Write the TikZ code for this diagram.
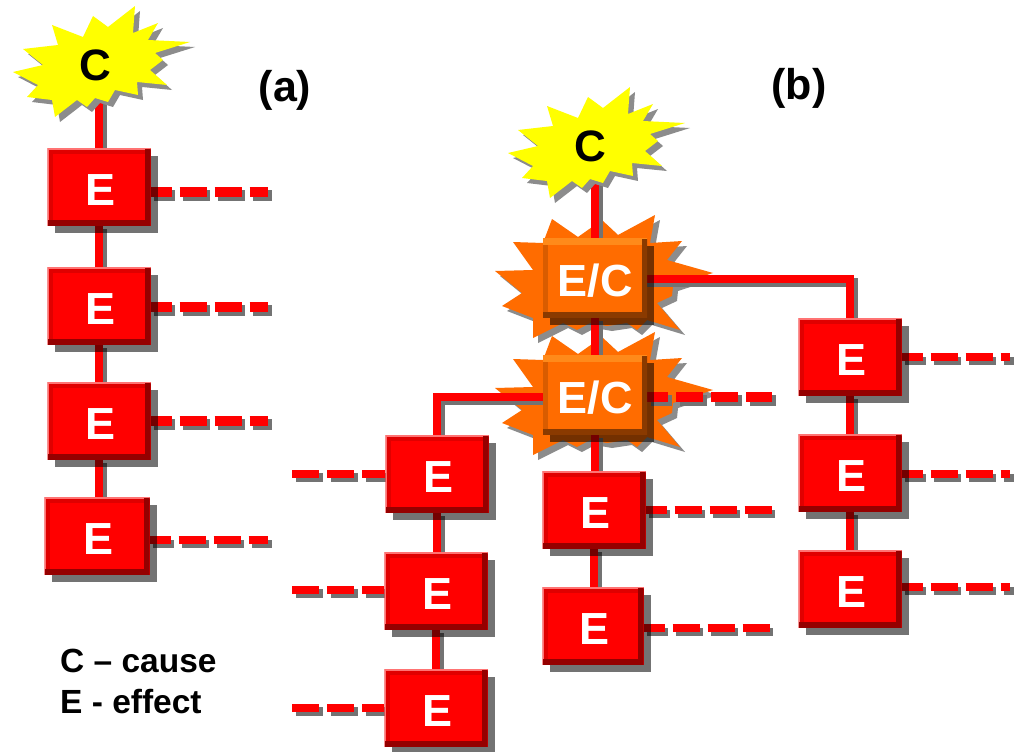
\documentclass[tikz,border=0pt]{standalone}
\usepackage{fontspec}
\setmainfont{Liberation Sans}
\usetikzlibrary{shadows,calc}
\pgfdeclarelayer{backlayer}
\pgfdeclarelayer{burstlayer}
\pgfdeclarelayer{linelayer}
\pgfsetlayers{backlayer,burstlayer,linelayer,main}
\definecolor{bred}{HTML}{FF0000}
\definecolor{byel}{HTML}{FFFF00}
\definecolor{bredlt}{HTML}{E00000}
\definecolor{breddk}{HTML}{950000}
\definecolor{borg}{HTML}{FF6C00}
\definecolor{borglt}{HTML}{FF8A1A}
\definecolor{borgmd}{HTML}{D95C00}
\definecolor{borgdk}{HTML}{8A3A00}
\newcommand{\sz}[1]{\fontsize{#1}{#1}\selectfont}
\newcommand{\yellowpts}{(-82,7)--(-52,0)--(-72,-16)--(-37,-20)--(-43,-40)--(-12,-28)--(-2,-49)--(13,-38)--(40,-59)--(38,-32)--(63,-42)--(53,-25)--(95,-23)--(60,-12)--(68,-5)--(55,5)--(72,20)--(42,17)--(43,30)--(20,25)--(13,37)--(0,33)--(-8,42)--(-18,35)--(-40,52)--(-43,35)--(-68,32)--(-57,20)--cycle}
\newcommand{\orangepts}{(-100,-7)--(-62,-8)--(-82,-36)--(-52,-35)--(-43,-59)--(-17,-41)--(7,-58)--(23,-43)--(60,-63)--(55,-35)--(87,-37)--(72,-18)--(118,-5)--(78,8)--(77,18)--(62,25)--(85,52)--(52,42)--(42,52)--(32,45)--(12,48)--(-5,45)--(-18,52)--(-32,45)--(-62,60)--(-62,40)--(-93,28)--(-73,15)--cycle}
\tikzset{
  boxbase/.style={rectangle,inner sep=0pt,minimum width=103pt,minimum height=77pt,text=white,font=\bfseries\sz{45},
    drop shadow={shadow xshift=7pt,shadow yshift=-7pt,fill=black,opacity=.55}},
  effect/.style={boxbase,fill=bred,
    path picture={
      \draw[line width=10pt,bredlt] (path picture bounding box.south west)--(path picture bounding box.north west)--(path picture bounding box.north east);
      \draw[line width=3pt,red!55!white] (path picture bounding box.south west)--(path picture bounding box.north west)--(path picture bounding box.north east);
      \draw[line width=11pt,breddk] (path picture bounding box.north east)--(path picture bounding box.south east)--(path picture bounding box.south west);
    }},
  effcause/.style={boxbase,fill=borg,minimum width=104pt,minimum height=79pt,
    path picture={
      \draw[line width=10pt,borgmd] (path picture bounding box.south west)--(path picture bounding box.north west);
      \draw[line width=12pt,borglt] (path picture bounding box.north west)--(path picture bounding box.north east);
      \draw[line width=11pt,borgdk] (path picture bounding box.north east)--(path picture bounding box.south east)--(path picture bounding box.south west);
    }},
  cause/.style={rectangle,inner sep=0pt,text=black,font=\bfseries\sz{44}},
  mk/.style 2 args={line width=#1,#2,draw=bred,line join=miter,
    preaction={draw=black!55,line width=#1,#2,line join=miter,transform canvas={shift={(3.5pt,-3.5pt)}}}},
  link/.style={mk={8.5pt}{solid}},
  dashlink/.style={mk={10.5pt}{dash pattern=on 27pt off 8pt,dash phase=6pt}},
  dashthin/.style={mk={8pt}{dash pattern=on 27pt off 8pt,dash phase=6pt}},
  dashin/.style={mk={8.5pt}{dash pattern=on 27pt off 8pt}},
  title/.style={inner sep=0pt,text=black,font=\bfseries\sz{43}},
  legend/.style={inner sep=0pt,anchor=west,text=black,font=\bfseries\sz{33.5}},
}
\newcommand{\yellowburst}[2]{%
  \fill[black!45,shift={(#1+5,#2+5)}] \yellowpts;
  \fill[byel,shift={(#1,#2)}] \yellowpts;}
\newcommand{\orangeburst}[2]{%
  \begin{pgfonlayer}{burstlayer}
  \fill[black!45,shift={(#1+5,#2+5)}] \orangepts;
  \fill[borg,shift={(#1,#2)}] \orangepts;
  \end{pgfonlayer}}
\newcommand{\lowE}[1]{\rule{0pt}{37pt}#1}
\newcommand{\eff}{\rule{0pt}{37pt}\hspace{3pt}E}
\begin{document}
\begin{tikzpicture}[x=1pt,y=-1pt]
\useasboundingbox (0,0) rectangle (1020,752);
\begin{pgfonlayer}{backlayer}
\fill[white] (0,0) rectangle (1020,752);
\end{pgfonlayer}
% bursts
\orangeburst{595}{278}
\orangeburst{595}{395}
\yellowburst{95}{65}
\yellowburst{590}{146}
\node[cause] (ca) at (95,65) {C};
\node[cause] (cb) at (590,146) {C};
% panel (a)
\node[effect] (a1) at (99,187) {\eff};
\node[effect] (a2) at (99,306) {\eff};
\node[effect] (a3) at (99,421) {\eff};
\node[effect,minimum width=105pt] (a4) at (97,536) {\eff};
% panel (b) effect/cause
\node[effcause] (ec1) at (595,278) {\lowE{E/C}};
\node[effcause] (ec2) at (595,395) {\lowE{E/C}};
% left column
\node[effect] (l1) at (437,474) {\eff};
\node[effect] (l2) at (436,591) {\eff};
\node[effect] (l3) at (436,708) {\eff};
% middle column
\node[effect] (m1) at (594,510) {\eff};
\node[effect,minimum width=101pt] (m2) at (593,626) {\eff};
% right column
\node[effect] (r1) at (850,357) {\eff};
\node[effect] (r2) at (850,473) {\eff};
\node[effect] (r3) at (850,589) {\eff};
% free ends
\coordinate (da1) at (268,192);
\coordinate (da2) at (268,307);
\coordinate (da3) at (268,421);
\coordinate (da4) at (268,540);
\coordinate (dl1) at (292,474);
\coordinate (dl2) at (292,590);
\coordinate (dl3) at (292,708);
\coordinate (dm0) at (772,397);
\coordinate (dm1) at (772,510);
\coordinate (dm2) at (772,628);
\coordinate (dr1) at (1010,357);
\coordinate (dr2) at (1010,474);
\coordinate (dr3) at (1010,587);
\begin{pgfonlayer}{linelayer}
\draw[link] (a1|-ca) -- (a1);
\draw[link] (a1) -- (a2);
\draw[link] (a2) -- (a3);
\draw[link] (a3) -- (a3|-a4);
\draw[link] (ec1|-cb) -- (ec1);
\draw[link] (ec1) -- (ec2);
\draw[link] (ec2) -- (ec2|-m1);
\draw[link] (m1) -- (m1|-m2);
\draw[link] (ec1.center) ++(0,1) -| (r1.north);
\draw[link] (ec2.center) ++(0,2) -| (l1.north);
\draw[link] (l1) -- (l1|-l2);
\draw[link] (l2) -- (l3);
\draw[link] (r1) -- (r2);
\draw[link] (r2) -- (r3);
\draw[dashlink] (a1.east|-da1) -- (da1);
\draw[dashlink] (a2.east|-da2) -- (da2);
\draw[dashlink] (a3.east|-da3) -- (da3);
\draw[dashthin] (a4.east|-da4) -- (da4);
\draw[dashin] (dl1) -- (l1.west|-dl1);
\draw[dashin] (dl2) -- (l2.west|-dl2);
\draw[dashin] (dl3) -- (l3.west|-dl3);
\draw[dashlink] (ec2.east|-dm0) -- (dm0);
\draw[dashthin] (m1.east|-dm1) -- (dm1);
\draw[dashthin] (m2.east|-dm2) -- (dm2);
\draw[dashthin] (r1.east|-dr1) -- (dr1);
\draw[dashthin] (r2.east|-dr2) -- (dr2);
\draw[dashthin] (r3.east|-dr3) -- (dr3);
\end{pgfonlayer}
% labels
\node[title] (ta) at (285,90) {(a)};
\node[title] (tb) at (799,88) {(b)};
\node[legend] (lc) at (60,661) {C – cause};
\node[legend] (le) at (60,702) {E - effect};
\end{tikzpicture}
\end{document}
